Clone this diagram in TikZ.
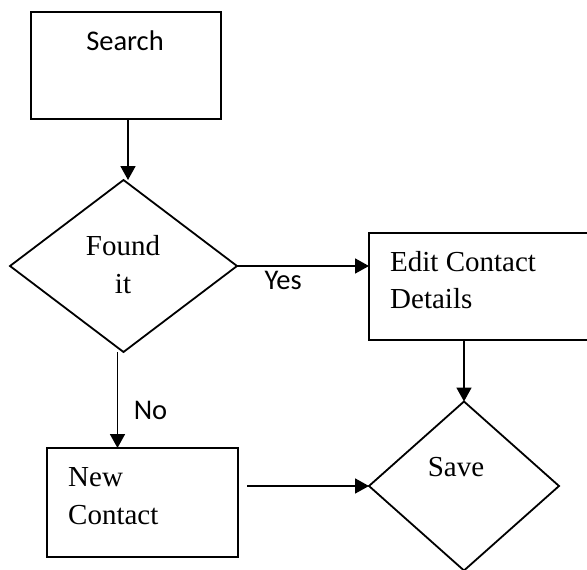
\documentclass[tikz,border=0pt]{standalone}
\usepackage{fontspec}
\setmainfont{Liberation Serif}
\newfontfamily\sansf{Carlito}
\usetikzlibrary{shapes.geometric,arrows.meta}
\tikzset{
  boxshape/.style={draw, line width=1.8pt, rectangle, inner sep=0pt, outer sep=0pt},
  dshape/.style={draw, line width=1.8pt, diamond, inner sep=0pt, outer sep=0pt},
  serift/.style={inner sep=0pt, font=\fontsize{29}{36}\selectfont},
  sanst/.style={inner sep=0pt, font=\sansf\fontsize{28.5}{34}\selectfont},
  flow/.style={line width=1.8pt, -{Triangle[length=14pt,width=15pt]}},
}
\begin{document}
\begin{tikzpicture}[x=1pt,y=-1pt]
\useasboundingbox (0,0) rectangle (587,570);
% shapes
\node[boxshape, minimum width=190pt, minimum height=107pt] (search) at (126,65.5) {};
\node[dshape, minimum width=227pt, minimum height=172pt] (found) at (123.5,266) {};
\node[boxshape, minimum width=240pt, minimum height=107pt] (edit) at (489,286.5) {};
\node[boxshape, minimum width=191pt, minimum height=109pt] (new) at (142.5,502.5) {};
\node[dshape, minimum width=190pt, minimum height=169pt] (save) at (464,486) {};
% texts
\node[sanst, anchor=base] (searcht) at (125,50) {Search};
\node[serift, anchor=base] (foundt1) at (123,255) {Found};
\node[serift, anchor=base] (foundt2) at (123,293) {it};
\node[serift, anchor=base west] (editt1) at (390,271) {Edit Contact};
\node[serift, anchor=base west] (editt2) at (390,308) {Details};
\node[serift, anchor=base west] (newt1) at (68,486) {New};
\node[serift, anchor=base west] (newt2) at (68,524) {Contact};
\node[serift, anchor=base] (savet) at (456,476) {Save};
% connectors
\draw[flow] ([xshift=2pt]search.south) -- ([xshift=2pt]search.south |- found.north);
\draw[flow] (found.east) -- (found.east -| edit.west)
  node[sanst, anchor=base, pos=0.35, yshift=-23pt] (yes) {Yes};
\draw[flow] (save.north |- edit.south) -- (save.north);
\draw[flow] ([xshift=-6pt]found.south) -- ([xshift=-6pt]found.south |- new.north)
  node[sanst, anchor=base, pos=0.7, xshift=33pt] (no) {No};
\draw[flow] ([xshift=9pt]save.west -| new.east) -- (save.west);
\end{tikzpicture}
\end{document}
